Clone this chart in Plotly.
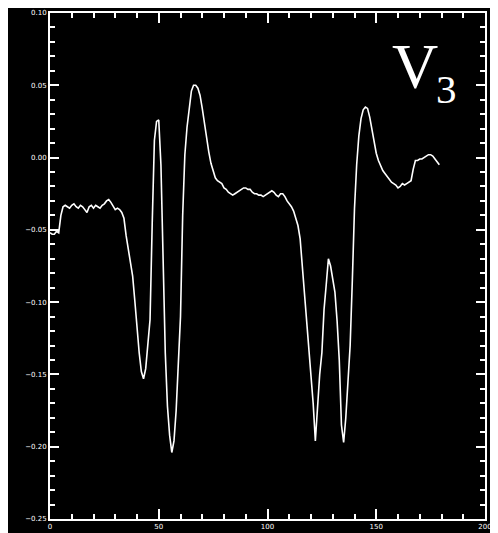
import plotly.graph_objects as go

# Sample index (x) and signal value (y)
x_vals = list(range(0, 180))
y_vals = [
    -0.052, -0.053, -0.053, -0.051, -0.052, -0.040, -0.034, -0.033, -0.034, -0.035,
    -0.033, -0.032, -0.034, -0.035, -0.033, -0.034, -0.036, -0.038, -0.034, -0.033,
    -0.035, -0.033, -0.034, -0.035, -0.033, -0.032, -0.030, -0.029, -0.031, -0.034,
    -0.036, -0.035, -0.036, -0.038, -0.042, -0.054, -0.064, -0.072, -0.082, -0.099,
    -0.118, -0.135, -0.148, -0.153, -0.146, -0.128, -0.112, -0.045, 0.012, 0.025,
    0.026, -0.005, -0.068, -0.135, -0.172, -0.192, -0.204, -0.196, -0.175, -0.145,
    -0.110, -0.040, 0.002, 0.021, 0.034, 0.046, 0.050, 0.050, 0.048, 0.043,
    0.034, 0.023, 0.013, 0.004, -0.004, -0.010, -0.014, -0.016, -0.017, -0.018,
    -0.021, -0.022, -0.024, -0.025, -0.026, -0.025, -0.024, -0.023, -0.022, -0.021,
    -0.021, -0.022, -0.022, -0.024, -0.025, -0.025, -0.026, -0.026, -0.027, -0.026,
    -0.025, -0.024, -0.023, -0.024, -0.026, -0.027, -0.025, -0.025, -0.027, -0.030,
    -0.032, -0.034, -0.037, -0.042, -0.047, -0.056, -0.075, -0.095, -0.115, -0.130,
    -0.150, -0.170, -0.196, -0.172, -0.150, -0.135, -0.105, -0.088, -0.070, -0.075,
    -0.085, -0.093, -0.113, -0.140, -0.185, -0.197, -0.180, -0.158, -0.130, -0.085,
    -0.035, -0.005, 0.015, 0.027, 0.033, 0.035, 0.034, 0.028, 0.019, 0.010,
    0.003, -0.002, -0.006, -0.009, -0.011, -0.013, -0.015, -0.017, -0.018, -0.019,
    -0.021, -0.020, -0.018, -0.019, -0.018, -0.017, -0.016, -0.008, -0.002, -0.002,
    -0.001, -0.001, 0.000, 0.001, 0.002, 0.002, 0.001, -0.001, -0.003, -0.005,
]

x_ticks = [0, 50, 100, 150, 200]
x_tick_labels = ["0", "50", "100", "150", "200"]
y_ticks = [-0.25, -0.20, -0.15, -0.10, -0.05, 0.00, 0.05, 0.10]
y_tick_labels = ["\u22120.25", "\u22120.20", "\u22120.15", "\u22120.10", "\u22120.05", "0.00", "0.05", "0.10"]

lead_name = "V"
lead_sub = "3"

fig = go.Figure()
fig.add_trace(go.Scatter(
    x=x_vals, y=y_vals, mode="lines",
    line=dict(color="white", width=1.6),
    showlegend=False, hoverinfo="skip",
))

axis_common = dict(
    showgrid=False, zeroline=False, automargin=False, ticklabeloverflow="allow",
    showline=True, linecolor="white", linewidth=2,
    mirror="ticks", ticks="inside", tickcolor="white", tickwidth=2,
    tickfont=dict(family="DejaVu Sans", size=7, color="white"),
)

fig.update_xaxes(
    range=[0, 200], tickmode="array", tickvals=x_ticks, ticktext=x_tick_labels,
    ticklen=10, ticklabelstandoff=0,
    minor=dict(dtick=10, ticklen=5, tickcolor="white", tickwidth=2, ticks="inside"),
    **axis_common,
)
fig.update_yaxes(
    range=[-0.25, 0.10], tickmode="array", tickvals=y_ticks, ticktext=y_tick_labels,
    ticklen=9,
    minor=dict(dtick=0.01, tick0=0, ticklen=5, tickcolor="white", tickwidth=2, ticks="inside"),
    **axis_common,
)

fig.add_annotation(
    x=167.9, y=0.063, xref="x", yref="y", text=lead_name, showarrow=False,
    font=dict(family="Liberation Serif", size=64, color="white"),
    xanchor="center", yanchor="middle",
)
fig.add_annotation(
    x=182.4, y=0.0475, xref="x", yref="y", text=lead_sub, showarrow=False,
    font=dict(family="Liberation Serif", size=41, color="white"),
    xanchor="center", yanchor="middle",
)

# page body has an 8px default margin, so the figure is sized to fit the window
fig.update_layout(
    width=490, height=525,
    margin=dict(l=42, r=13, t=5, b=14),
    paper_bgcolor="black", plot_bgcolor="black",
)

fig.write_html("out.html")
